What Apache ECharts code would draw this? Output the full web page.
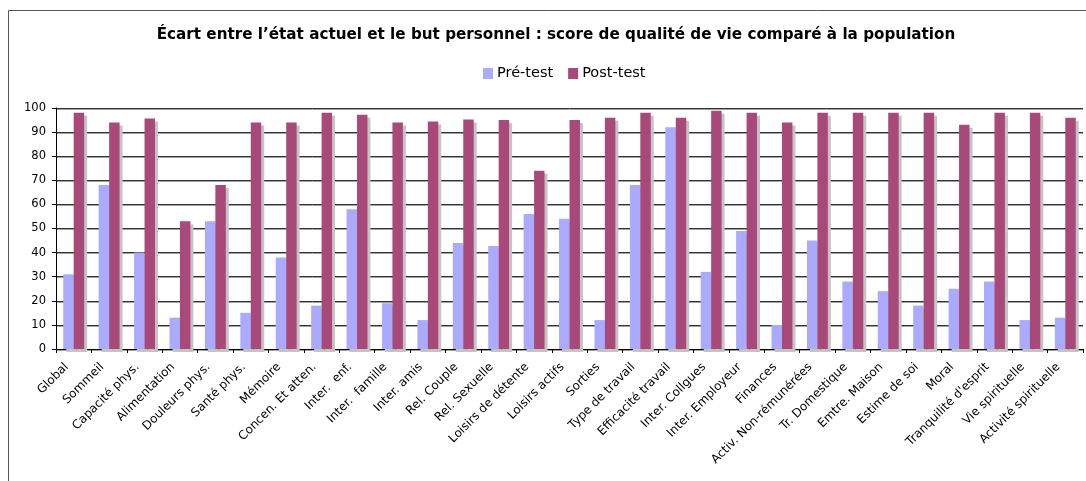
<!DOCTYPE html>
<html>
<head>
<meta charset="utf-8">
<script src="https://cdn.jsdelivr.net/npm/echarts@6/dist/echarts.min.js"></script>
<style>
  html, body { margin: 0; padding: 0; background: #fff; }
  #chart { width: 1086px; height: 481px; }
</style>
</head>
<body>
<div id="chart"></div>
<script>
// catégories (axe x)
var categories = [
  'Global', 'Sommeil', 'Capacité phys.', 'Alimentation', 'Douleurs phys.',
  'Santé phys.', 'Mémoire', 'Concen. Et atten.', 'Inter.  enf.', 'Inter.  famille',
  'Inter. amis', 'Rel. Couple', 'Rel. Sexuelle', 'Loisirs de détente', 'Loisirs actifs',
  'Sorties', 'Type de travail', 'Efficacité travail', 'Inter. Collgues', 'Inter. Employeur',
  'Finances', 'Activ. Non-rémunérées', 'Tr. Domestique', 'Emtre. Maison', 'Estime de soi',
  'Moral', "Tranquilité d'esprit", 'Vie spirituelle', 'Activité spirituelle'
]

// valeurs
var preTest = [
  31, 68, 40, 13, 53,
  15, 38, 18, 58, 19,
  12, 44, 42.7, 56, 54,
  12, 68, 92, 32, 49,
  10, 45, 28, 24, 18,
  25, 28, 12, 13
]
var postTest = [
  98, 94, 95.6, 53, 68,
  94, 94, 98, 97.2, 94,
  94.4, 95.2, 95, 74, 95,
  96, 98, 96, 98.9, 98,
  94, 98, 98, 98, 98,
  93, 98, 98, 96
]

// graduations de l'axe y
var yMin = 0
var yMax = 100
var yStep = 10

var FONT = 'DejaVu Sans, Verdana, sans-serif'

var barShadow = {
  shadowColor: '#c4c4c4',
  shadowBlur: 0,
  shadowOffsetX: 3,
  shadowOffsetY: 3
}

var option = {
  animation: false,
  backgroundColor: '#ffffff',
  title: {
    text: 'Écart entre l’état actuel et le but personnel : score de qualité de vie comparé à la population',
    left: 551,
    textAlign: 'center',
    top: 23,
    textStyle: {
      fontFamily: FONT,
      fontSize: 15.2,
      fontWeight: 'bold',
      color: '#000'
    }
  },
  legend: {
    data: ['Pré-test', 'Post-test'],
    left: 483,
    top: 66,
    padding: 0,
    itemWidth: 10,
    itemHeight: 11,
    itemGap: 15,
    icon: 'rect',
    textStyle: {
      fontFamily: FONT,
      fontSize: 14.5,
      color: '#000',
      padding: [0, 0, 0, -1]
    }
  },
  grid: {
    left: 56,
    right: 3,
    top: 108,
    bottom: 132,
    containLabel: false
  },
  xAxis: {
    type: 'category',
    data: categories,
    axisLine: {
      show: true,
      lineStyle: { color: '#000', width: 1 }
    },
    axisTick: {
      show: true,
      length: 4,
      lineStyle: { color: '#000' }
    },
    axisLabel: {
      interval: 0,
      rotate: 45,
      margin: 9,
      padding: [0, 10, 0, 0],
      fontFamily: FONT,
      fontSize: 12,
      color: '#000'
    },
    splitLine: { show: false }
  },
  yAxis: {
    type: 'value',
    min: yMin,
    max: yMax,
    interval: yStep,
    axisLine: {
      show: true,
      lineStyle: { color: '#000', width: 1 }
    },
    axisTick: {
      show: true,
      length: 4,
      lineStyle: { color: '#000' }
    },
    axisLabel: {
      margin: 10,
      fontFamily: FONT,
      fontSize: 11.5,
      color: '#000'
    },
    splitLine: {
      show: true,
      lineStyle: {
        color: '#333',
        width: 1,
        shadowColor: '#a0a0a0',
        shadowBlur: 0,
        shadowOffsetY: 1
      }
    }
  },
  graphic: [
    {
      type: 'rect',
      shape: { x: 8.5, y: 10.5, width: 1120, height: 520 },
      style: { fill: 'none', stroke: '#555', lineWidth: 1 },
      silent: true
    }
  ],
  series: [
    {
      name: 'Pré-test',
      type: 'bar',
      data: preTest,
      barGap: '0%',
      barCategoryGap: '41%',
      itemStyle: Object.assign({ color: '#aaaaff' }, barShadow)
    },
    {
      name: 'Post-test',
      type: 'bar',
      data: postTest,
      barGap: '0%',
      barCategoryGap: '41%',
      itemStyle: Object.assign({ color: '#a8497a' }, barShadow)
    }
  ]
}

echarts.init(document.getElementById('chart'), null, { renderer: 'canvas' }).setOption(option)
</script>
</body>
</html>
